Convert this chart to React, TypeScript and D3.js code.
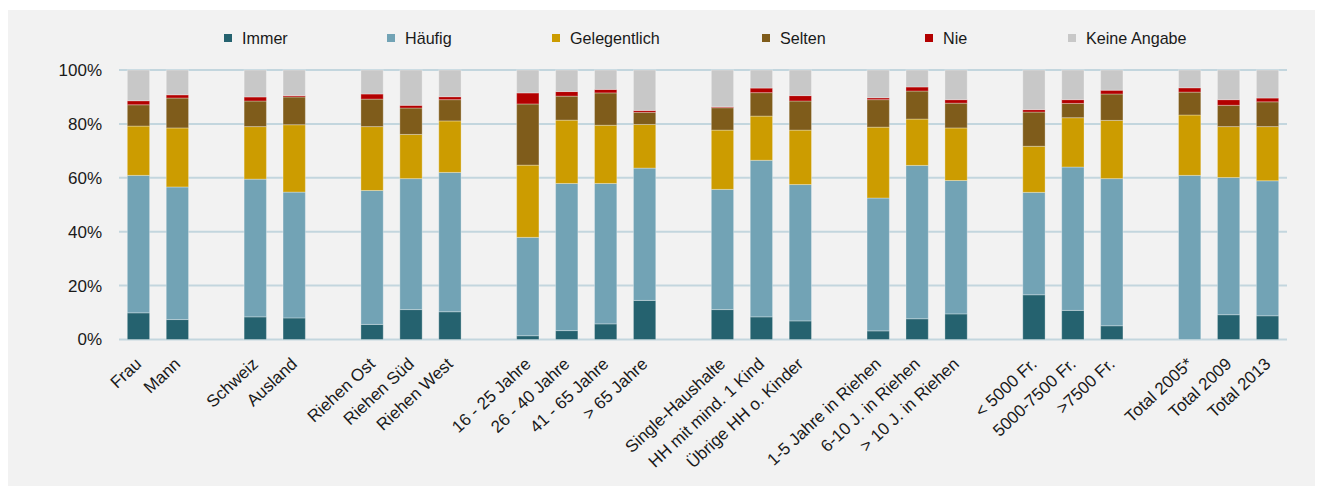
import React from "react";
import * as d3 from "d3";

const groups: string[][] = [
  ["Frau", "Mann"],
  ["Schweiz", "Ausland"],
  ["Riehen Ost", "Riehen Süd", "Riehen West"],
  ["16 - 25 Jahre", "26 - 40 Jahre", "41 - 65 Jahre", "> 65 Jahre"],
  ["Single-Haushalte", "HH mit mind. 1 Kind", "Übrige HH o. Kinder"],
  ["1-5 Jahre in Riehen", "6-10 J. in Riehen", "> 10 J. in Riehen"],
  ["< 5000 Fr.", "5000-7500 Fr.", ">7500 Fr."],
  ["Total 2005*", "Total 2009", "Total 2013"],
];

const seriesNames = ["Immer", "Häufig", "Gelegentlich", "Selten", "Nie", "Keine Angabe"];

const immer = [9.9, 7.4, 8.4, 8.0, 5.6, 11.1, 10.3, 1.4, 3.3, 5.8, 14.5, 11.1, 8.4, 6.9, 3.2, 7.7, 9.5, 16.6, 10.8, 5.1, 0, 9.2, 8.8];
const haeufig = [51.0, 49.2, 51.1, 46.7, 49.7, 48.6, 51.7, 36.5, 54.6, 52.1, 49.1, 44.6, 58.1, 50.6, 49.3, 56.9, 49.5, 38.0, 53.2, 54.6, 60.9, 50.9, 50.1];
const gelegentlich = [18.3, 21.9, 19.5, 25.0, 23.7, 16.4, 19.1, 26.8, 23.5, 21.6, 16.2, 22.0, 16.4, 20.2, 26.3, 17.2, 19.5, 17.1, 18.3, 21.6, 22.4, 18.9, 20.1];
const selten = [7.9, 11.1, 9.5, 10.3, 10.2, 9.8, 7.9, 22.7, 8.9, 12.0, 4.5, 8.3, 8.7, 10.8, 10.2, 10.4, 9.2, 12.7, 5.3, 9.8, 8.5, 7.9, 9.2];
const nie = [1.5, 1.2, 1.5, 0.5, 1.9, 1.0, 1.1, 4.1, 1.7, 1.3, 0.7, 0.3, 1.7, 2.0, 0.7, 1.5, 1.3, 0.9, 1.4, 1.4, 1.6, 2.1, 1.4];
const keineAngabe = [11.4, 9.2, 10.0, 9.5, 8.9, 13.1, 9.9, 8.5, 8.0, 7.2, 15.0, 13.7, 6.7, 9.5, 10.3, 6.3, 11.0, 14.7, 11.0, 7.5, 6.6, 11.0, 10.4];

const yTicks = [0, 20, 40, 60, 80, 100];

const colors = ["#25626f", "#72a3b5", "#cc9c00", "#7f5c1b", "#b30000", "#c8c8c8"];
const legendX = [224, 387, 552, 762, 925, 1068];

const W = 1322;
const H = 487;
const FONT = "'Liberation Sans', Arial, sans-serif";

export default function App() {
  const categories = groups.flat();
  const slots: string[] = [];
  groups.forEach((g, i) => {
    if (i > 0) slots.push(`__gap${i}`);
    g.forEach((c) => slots.push(c));
  });

  const x = d3.scaleBand<string>().domain(slots).range([119, 1287]).paddingInner(0.427).paddingOuter(0.2135);
  const y = d3.scaleLinear().domain([0, 100]).range([339.5, 70]);

  const allSeries = [immer, haeufig, gelegentlich, selten, nie, keineAngabe];
  const table = categories.map((c, i) => {
    const row: any = { cat: c };
    seriesNames.forEach((s, k) => (row[s] = allSeries[k][i]));
    return row;
  });
  const stacked = d3.stack<any>().keys(seriesNames)(table);

  return (
    <svg width={W} height={H} style={{ position: "absolute", left: 0, top: 0 }} fontFamily={FONT}>
      <rect x={0} y={0} width={W} height={H} fill="#ffffff" />
      <rect x={8} y={10} width={1307} height={476} fill="#f2f2f2" />
      {yTicks.map((t) => (
        <g key={t}>
          <line x1={119} x2={1287} y1={y(t)} y2={y(t)} stroke="#c3d6de" strokeWidth={2} />
          <text x={102} y={y(t)} dy="0.35em" textAnchor="end" fontSize={17} fill="#1a1a1a">
            {t}%
          </text>
        </g>
      ))}
      {stacked.map((layer, k) => (
        <g key={layer.key} fill={colors[k]}>
          {layer.map((d, i) => {
            const c = categories[i];
            const y0 = y(d[0]);
            const y1 = y(d[1]);
            if (y0 - y1 <= 0) return null;
            return (
              <rect
                key={c}
                x={x(c)}
                y={y1}
                width={x.bandwidth()}
                height={y0 - y1}
                stroke="rgba(255,255,255,0.3)"
                strokeWidth={1}
              />
            );
          })}
        </g>
      ))}
      {categories.map((c) => {
        const cx = (x(c) as number) + x.bandwidth() / 2;
        return (
          <text
            key={c}
            transform={`translate(${cx},${361}) rotate(-43)`}
            textAnchor="end"
            dy="0.35em"
            fontSize={17}
            fill="#1a1a1a"
          >
            {c}
          </text>
        );
      })}
      {seriesNames.map((s, k) => (
        <g key={s}>
          <rect x={legendX[k]} y={34} width={8} height={8} fill={colors[k]} />
          <text
            transform={`translate(${legendX[k] + 18},${38.3}) scale(0.95,1)`}
            dy="0.35em"
            fontSize={17}
            fill="#1a1a1a"
          >
            {s}
          </text>
        </g>
      ))}
    </svg>
  );
}
